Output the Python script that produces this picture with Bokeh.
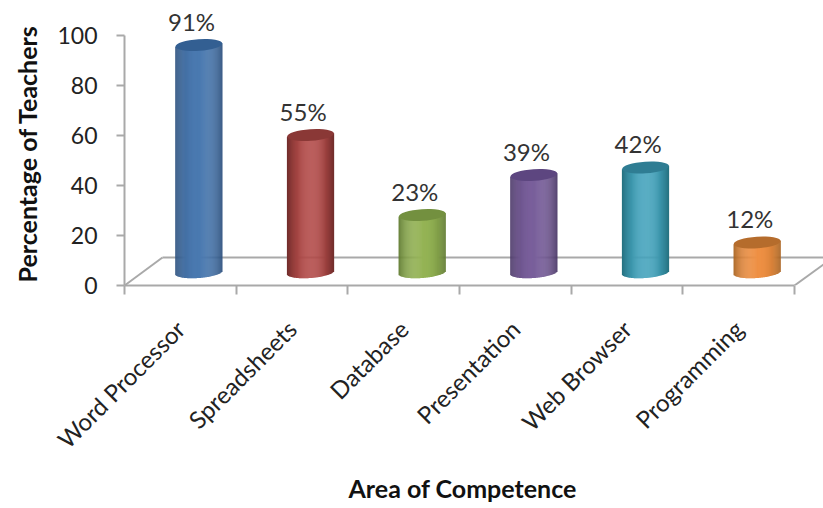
import math
from bokeh.plotting import figure
from bokeh.models import ColumnDataSource, FixedTicker, Title
from bokeh.core.properties import value
from bokeh.embed import file_html
from bokeh.resources import INLINE

categories = ["Word Processor", "Spreadsheets", "Database", "Presentation", "Web Browser", "Programming"]
percent = [91, 55, 23, 39, 42, 12]
y_ticks = [0, 20, 40, 60, 80, 100]
light = ["#4a79b0", "#b24b49", "#94b355", "#795f9b", "#45a3bc", "#ee9044"]
dark = ["#2b4f7c", "#6f2c2b", "#5f7a30", "#4a3766", "#24707f", "#a8621f"]
top_col = ["#335f92", "#8a3836", "#73903f", "#5d4680", "#2f7d93", "#b56c2c"]
FONT = "Lato"
GREY = "#a9a9a9"


def hex2(c):
    return [int(c[i:i + 2], 16) for i in (1, 3, 5)]


def mix(a, b, f):
    return "#%02x%02x%02x" % tuple(round(x + (y - x) * f) for x, y in zip(hex2(a), hex2(b)))


p = figure(width=823, height=508, output_backend="svg", toolbar_location=None,
           x_range=(-0.5, 5.76), y_range=(0, 114),
           min_border_left=124, min_border_right=0, min_border_top=0, min_border_bottom=223,
           outline_line_color=None, background_fill_color="white", border_fill_color="white")
p.grid.visible = False

# floor of the 3D box
p.segment(x0=[-0.5, -0.16, 5.5], y0=[0, 11.2, 0], x1=[-0.16, 5.76, 5.76], y1=[11.2, 11.2, 8.4],
          line_color=GREY, line_width=2)

SHIFT = 0.166
R = 0.21
STRIPS = 48
BASE = 5.2
TILT = 0.68
ARC = 2.2
for i, v in enumerate(percent):
    cx = i + SHIFT
    xs, tops, bots, cols = [], [], [], []
    for k in range(STRIPS):
        t = -1 + (k + 0.5) * 2 / STRIPS
        xs.append(cx + t * R)
        tops.append(BASE + v + TILT * t)
        bots.append(BASE + TILT * t - ARC * math.sqrt(max(0, 1 - t * t)))
        cols.append(mix(dark[i], light[i], 1 - abs(t) ** 2.5))
    src = ColumnDataSource(dict(x=xs, top=tops, bottom=bots, color=cols))
    p.vbar(x="x", width=R * 2 / STRIPS * 1.35, top="top", bottom="bottom", fill_color="color",
           line_color=None, source=src)
    p.ellipse(x=[cx], y=[BASE + v], width=[2 * R], height=[4.6], angle=[0.07],
              fill_color=top_col[i], line_color=None)

p.text(x=[i + 0.1 for i in range(6)], y=[BASE + v + 9.6 for v in percent],
       text=[f"{v}%" for v in percent], text_font=value(FONT), text_font_size="24px",
       text_color="#333333", text_align="center", text_baseline="middle")

xa = p.xaxis[0]
xa.ticker = FixedTicker(ticks=list(range(6)), minor_ticks=[k - 0.5 for k in range(7)])
xa.major_label_overrides = {i: c for i, c in enumerate(categories)}
xa.bounds = (-0.5, 5.5)
xa.major_label_orientation = math.pi / 4
xa.major_tick_out = 0
xa.major_tick_in = 0
xa.minor_tick_out = 9
xa.minor_tick_in = 0
xa.minor_tick_line_color = GREY
xa.minor_tick_line_width = 2
xa.axis_line_color = GREY
xa.axis_line_width = 2
xa.major_label_text_font = FONT
xa.major_label_text_font_size = "24px"
xa.major_label_text_color = "#222222"
xa.major_label_standoff = 30

ya = p.yaxis[0]
ya.ticker = FixedTicker(ticks=y_ticks)
ya.bounds = (0, 100)
ya.major_tick_out = 8
ya.major_tick_in = 0
ya.major_tick_line_color = GREY
ya.major_tick_line_width = 2
ya.axis_line_color = GREY
ya.axis_line_width = 2
ya.major_label_text_font = FONT
ya.major_label_text_font_size = "23px"
ya.major_label_text_color = "#222222"
ya.major_label_standoff = 19

for txt, side, off, gap, va in (("Area of Competence", "below", 224, 9, "bottom"),
                                ("Percentage of Teachers", "left", 3, 22, "top")):
    p.add_layout(Title(text=txt, align="left", offset=off, standoff=gap, vertical_align=va,
                       text_font=FONT, text_font_style="bold", text_font_size="25px",
                       text_color="#111111"), side)

open("out.html", "w").write(file_html(p, INLINE))
